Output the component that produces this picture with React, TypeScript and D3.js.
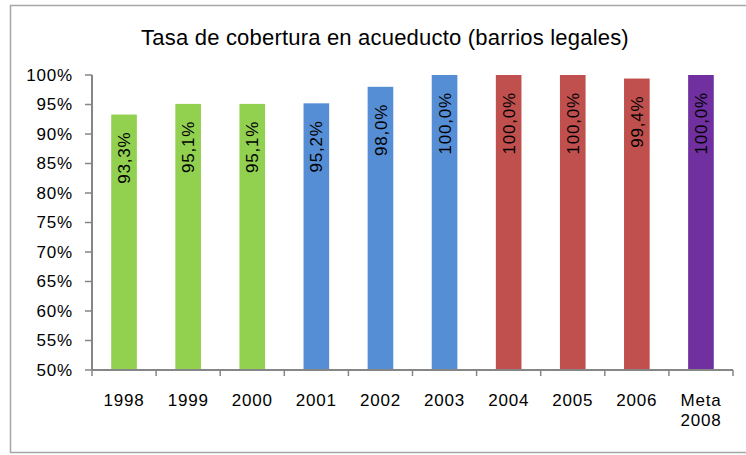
import React from "react";
import * as d3 from "d3";

const categories = ["1998", "1999", "2000", "2001", "2002", "2003", "2004", "2005", "2006", "Meta 2008"];
const values = [93.3, 95.1, 95.1, 95.2, 98.0, 100.0, 100.0, 100.0, 99.4, 100.0];
const groups = ["g", "g", "g", "b", "b", "b", "r", "r", "r", "p"];
const groupColors: Record<string, string> = { g: "#92D050", b: "#558ED5", r: "#C0504D", p: "#7030A0" };
const yTicks = [50, 55, 60, 65, 70, 75, 80, 85, 90, 95, 100];
const title = "Tasa de cobertura en acueducto (barrios legales)";

const W = 746, H = 455;
const left = 92, right = 733, top = 75, bottom = 370;
const FONT = "'Liberation Sans', Arial, sans-serif";

export default function App() {
  const x = d3.scaleBand<string>().domain(categories).range([left, right]).paddingInner(0.6).paddingOuter(0.3);
  const xb = d3.scaleBand<string>().domain(categories).range([left, right]);
  const y = d3.scaleLinear().domain([50, 100]).range([bottom, top]);
  const fmt = (v: number) => v.toFixed(1).replace(".", ",") + "%";
  const axisColor = "#868686";
  return (
    <svg width={W} height={H} style={{ position: "absolute", left: 0, top: 0, background: "#fff" }} fontFamily={FONT}>
      <rect x={10.5} y={5.5} width={745} height={447} fill="#fff" stroke="#A6A6A6" strokeWidth={1.5} />
      <text x={385} y={45} textAnchor="middle" fontSize={22} fill="#000" letterSpacing={0.2}>{title}</text>
      {yTicks.map((t) => (
        <g key={t}>
          <line x1={85} x2={left} y1={y(t)} y2={y(t)} stroke={axisColor} strokeWidth={1.5} />
          <text x={73} y={y(t)} dy="0.35em" textAnchor="end" fontSize={17} letterSpacing={0.8} fill="#000">{t}%</text>
        </g>
      ))}
      {categories.map((c, i) => {
        const bx = x(c)!;
        const bw = x.bandwidth();
        const yt = y(values[i]);
        const cx = bx + bw / 2;
        const ly = yt + 17;
        return (
          <g key={c}>
            <rect x={bx} y={yt} width={bw} height={bottom - yt} fill={groupColors[groups[i]]} />
            <text transform={`translate(${cx},${ly}) rotate(-90)`} dy="0.36em" textAnchor="end" fontSize={17} letterSpacing={0.8} fill="#000">{fmt(values[i])}</text>
          </g>
        );
      })}
      <line x1={left} x2={left} y1={top} y2={bottom} stroke={axisColor} strokeWidth={2} />
      <line x1={left} x2={right} y1={bottom} y2={bottom} stroke={axisColor} strokeWidth={2} />
      {categories.map((c) => (
        <line key={"t" + c} x1={xb(c)!} x2={xb(c)!} y1={bottom} y2={bottom + 6} stroke={axisColor} strokeWidth={1.5} />
      ))}
      <line x1={right} x2={right} y1={bottom} y2={bottom + 6} stroke={axisColor} strokeWidth={1.5} />
      {categories.map((c) => {
        const cx = xb(c)! + xb.bandwidth() / 2;
        const parts = c.split(" ");
        return (
          <text key={"l" + c} x={cx} y={406} textAnchor="middle" fontSize={17} letterSpacing={0.8} fill="#000">
            {parts.map((p, j) => (
              <tspan key={j} x={cx} dy={j === 0 ? 0 : 20}>{p}</tspan>
            ))}
          </text>
        );
      })}
    </svg>
  );
}
